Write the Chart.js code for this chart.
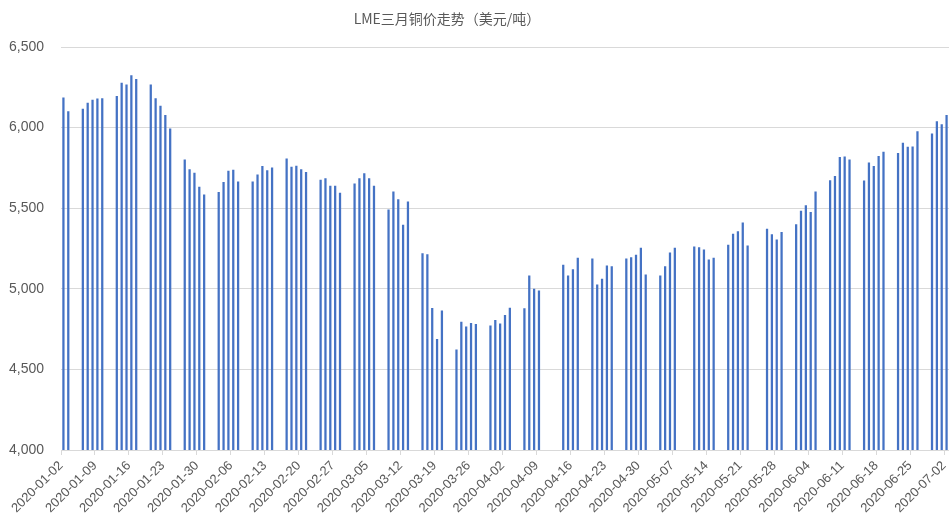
<!DOCTYPE html>
<html>
<head>
<meta charset="utf-8">
<script src="https://cdn.jsdelivr.net/npm/chart.js@4/dist/chart.umd.min.js"></script>
<style>
    html, body { margin: 0; padding: 0; background: #ffffff; }
</style>
</head>
<body>
<canvas id="barChart" width="949" height="513"></canvas>
<script>
// Chart title
const chartTitle = 'LME三月铜价走势（美元/吨）';

// First calendar day of the date axis
const startDate = '2020-01-02';
const dayCount = 183;

// Trading days (weekends and UK holidays have no bar)
const tradeDates = [
    '2020-01-02', '2020-01-03', '2020-01-06', '2020-01-07', '2020-01-08', '2020-01-09', '2020-01-10',
    '2020-01-13', '2020-01-14', '2020-01-15', '2020-01-16', '2020-01-17',
    '2020-01-20', '2020-01-21', '2020-01-22', '2020-01-23', '2020-01-24',
    '2020-01-27', '2020-01-28', '2020-01-29', '2020-01-30', '2020-01-31',
    '2020-02-03', '2020-02-04', '2020-02-05', '2020-02-06', '2020-02-07',
    '2020-02-10', '2020-02-11', '2020-02-12', '2020-02-13', '2020-02-14',
    '2020-02-17', '2020-02-18', '2020-02-19', '2020-02-20', '2020-02-21',
    '2020-02-24', '2020-02-25', '2020-02-26', '2020-02-27', '2020-02-28',
    '2020-03-02', '2020-03-03', '2020-03-04', '2020-03-05', '2020-03-06',
    '2020-03-09', '2020-03-10', '2020-03-11', '2020-03-12', '2020-03-13',
    '2020-03-16', '2020-03-17', '2020-03-18', '2020-03-19', '2020-03-20',
    '2020-03-23', '2020-03-24', '2020-03-25', '2020-03-26', '2020-03-27',
    '2020-03-30', '2020-03-31', '2020-04-01', '2020-04-02', '2020-04-03',
    '2020-04-06', '2020-04-07', '2020-04-08', '2020-04-09',
    '2020-04-14', '2020-04-15', '2020-04-16', '2020-04-17',
    '2020-04-20', '2020-04-21', '2020-04-22', '2020-04-23', '2020-04-24',
    '2020-04-27', '2020-04-28', '2020-04-29', '2020-04-30', '2020-05-01',
    '2020-05-04', '2020-05-05', '2020-05-06', '2020-05-07',
    '2020-05-11', '2020-05-12', '2020-05-13', '2020-05-14', '2020-05-15',
    '2020-05-18', '2020-05-19', '2020-05-20', '2020-05-21', '2020-05-22',
    '2020-05-26', '2020-05-27', '2020-05-28', '2020-05-29',
    '2020-06-01', '2020-06-02', '2020-06-03', '2020-06-04', '2020-06-05',
    '2020-06-08', '2020-06-09', '2020-06-10', '2020-06-11', '2020-06-12',
    '2020-06-15', '2020-06-16', '2020-06-17', '2020-06-18', '2020-06-19',
    '2020-06-22', '2020-06-23', '2020-06-24', '2020-06-25', '2020-06-26',
    '2020-06-29', '2020-06-30', '2020-07-01', '2020-07-02'
];

// LME 3-month copper price, USD/t
const prices = [
    6185, 6100, 6115, 6152, 6171, 6179, 6180,
    6194, 6276, 6266, 6322, 6299,
    6266, 6180, 6134, 6076, 5993,
    5800, 5740, 5718, 5631, 5583,
    5598, 5660, 5730, 5736, 5664,
    5664, 5707, 5759, 5734, 5751,
    5807, 5755, 5761, 5740, 5722,
    5674, 5683, 5637, 5637, 5594,
    5651, 5683, 5714, 5683, 5637,
    5490, 5602, 5554, 5395, 5540,
    5219, 5213, 4879, 4687, 4863,
    4621, 4793, 4764, 4786, 4780,
    4770, 4805, 4782, 4836, 4880,
    4878, 5080, 4998, 4987,
    5147, 5080, 5120, 5190,
    5186, 5024, 5060, 5142, 5138,
    5186, 5194, 5209, 5252, 5086,
    5080, 5138, 5223, 5252,
    5260, 5256, 5242, 5180, 5190,
    5271, 5339, 5355, 5409, 5267,
    5370, 5337, 5304, 5351,
    5399, 5482, 5517, 5474, 5602,
    5672, 5697, 5815, 5819, 5800,
    5670, 5782, 5759, 5821, 5848,
    5840, 5904, 5879, 5881, 5976,
    5962, 6038, 6018, 6076
];

// Labels shown on the date axis, one every 7 days
const xTickLabels = [
    '2020-01-02', '2020-01-09', '2020-01-16', '2020-01-23', '2020-01-30',
    '2020-02-06', '2020-02-13', '2020-02-20', '2020-02-27',
    '2020-03-05', '2020-03-12', '2020-03-19', '2020-03-26',
    '2020-04-02', '2020-04-09', '2020-04-16', '2020-04-23', '2020-04-30',
    '2020-05-07', '2020-05-14', '2020-05-21', '2020-05-28',
    '2020-06-04', '2020-06-11', '2020-06-18', '2020-06-25', '2020-07-02'
];

// Value axis
const yMin = 4000;
const yMax = 6500;
const yStep = 500;

const textColor = '#595959';
const gridColor = '#d9d9d9';
const barColor = '#4472c4';
const labelFont = { family: '"Liberation Sans", Arial, sans-serif', size: 13 };

// Day offset from the start of the axis (bar sits in the middle of its day)
function dayOffset(dateStr) {
    const ms = Date.parse(dateStr + 'T00:00:00Z') - Date.parse(startDate + 'T00:00:00Z');
    return Math.round(ms / 86400000) + 0.5;
}

const points = tradeDates.map((d, i) => ({ x: dayOffset(d), y: prices[i] }));

// Draw the title where Excel put it
const titlePlugin = {
    id: 'excelTitle',
    afterDraw(chart) {
        const ctx = chart.ctx;
        ctx.save();
        ctx.font = '14px "Noto Sans CJK SC"';
        ctx.fillStyle = textColor;
        ctx.textAlign = 'center';
        ctx.textBaseline = 'middle';
        ctx.fillText(chartTitle, 447, 19);
        ctx.restore();
    }
};

const ctx = document.getElementById('barChart').getContext('2d');

window.myBarChart = new Chart(ctx, {
    type: 'bar',
    data: {
        datasets: [{
            label: chartTitle,
            data: points,
            backgroundColor: barColor,
            borderWidth: 0,
            barThickness: 1.6
        }]
    },
    options: {
        responsive: false,
        animation: false,
        layout: {
            padding: { top: 47, right: 0, left: 0, bottom: 0 }
        },
        plugins: {
            legend: { display: false },
            tooltip: { enabled: false }
        },
        scales: {
            x: {
                type: 'linear',
                min: 0,
                max: dayCount,
                offset: false,
                afterBuildTicks: axis => {
                    axis.ticks = xTickLabels.map((label, i) => ({ value: i * 7 }));
                },
                afterFit: axis => {
                    axis.paddingLeft = 0;
                    axis.paddingRight = 0;
                    axis.height = 63;
                },
                ticks: {
                    autoSkip: false,
                    maxRotation: 45,
                    minRotation: 45,
                    color: textColor,
                    font: labelFont,
                    callback: value => xTickLabels[value / 7] ?? ''
                },
                grid: {
                    offset: false,
                    drawOnChartArea: false,
                    color: gridColor,
                    tickLength: 5
                },
                border: { color: gridColor }
            },
            y: {
                min: yMin,
                max: yMax,
                afterFit: axis => {
                    axis.width = 61;
                },
                ticks: {
                    stepSize: yStep,
                    padding: 17,
                    color: textColor,
                    font: { family: '"Liberation Sans", Arial, sans-serif', size: 14 }
                },
                grid: {
                    color: gridColor,
                    drawTicks: false
                },
                border: { display: false }
            }
        }
    },
    plugins: [titlePlugin]
});
</script>
</body>
</html>
